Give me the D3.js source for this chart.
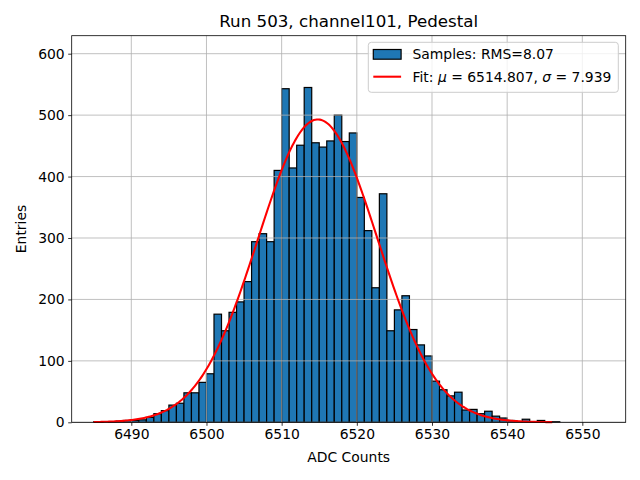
<!DOCTYPE html>
<html>
<head>
<meta charset="utf-8">
<script src="https://cdn.jsdelivr.net/npm/d3@7"></script>
<style>
  body { margin: 0; background: #fff; }
  text { font-family: "DejaVu Sans", sans-serif; fill: #000; }
</style>
</head>
<body>
<div id="container"></div>
<script>
// histogram bins (left edge, width 1 ADC count)
const binStart = [6485, 6486, 6487, 6488, 6489, 6490, 6491, 6492, 6493, 6494, 6495, 6496, 6497, 6498, 6499,
                  6500, 6501, 6502, 6503, 6504, 6505, 6506, 6507, 6508, 6509, 6510, 6511, 6512, 6513, 6514,
                  6515, 6516, 6517, 6518, 6519, 6520, 6521, 6522, 6523, 6524, 6525, 6526, 6527, 6528, 6529,
                  6530, 6531, 6532, 6533, 6534, 6535, 6536, 6537, 6538, 6539, 6540, 6541, 6542, 6543, 6544,
                  6545, 6546];
const counts = [1, 0, 1, 2, 3, 3, 4, 8, 14, 19, 28, 31, 48, 48, 65,
                79, 176, 149, 179, 196, 229, 294, 307, 294, 410, 543, 414, 451, 545, 455,
                448, 458, 500, 457, 471, 366, 312, 219, 372, 149, 183, 206, 151, 126, 108,
                67, 53, 43, 49, 20, 21, 14, 18, 10, 7, 3, 1, 5, 1, 3,
                1, 1];
const xTicks = [6490, 6500, 6510, 6520, 6530, 6540, 6550];
const yTicks = [0, 100, 200, 300, 400, 500, 600];

// gaussian fit parameters (from legend), amplitude
const fitMu = 6514.807;
const fitSigma = 7.939;
const fitAmp = 493;
const fitRange = [6485, 6546];

const width = 640;
const height = 480;
const box = { left: 71.7, right: 625.7, top: 35.7, bot: 422.3 };

const svg = d3.select("#container")
              .append("svg")
              .attr("width", width)
              .attr("height", height);
svg.append("rect").attr("width", width).attr("height", height).attr("fill", "#fff");

const xScale = d3.scaleLinear().domain([6482.07, 6555.77]).range([box.left, box.right]);
const yScale = d3.scaleLinear().domain([0, 629.3]).range([box.bot, box.top]);

// bars
const bins = binStart.map((b, i) => ({ x0: b, x1: b + 1, n: counts[i] }));
svg.append("g")
   .selectAll("rect")
   .data(bins)
   .enter()
   .append("rect")
   .attr("x", (d) => xScale(d.x0))
   .attr("width", (d) => xScale(d.x1) - xScale(d.x0))
   .attr("y", (d) => yScale(d.n))
   .attr("height", (d) => yScale(0) - yScale(d.n))
   .attr("fill", "#1f77b4")
   .attr("stroke", "#000")
   .attr("stroke-width", 1.2);

// grid (drawn above the bars, like matplotlib)
const grid = svg.append("g").attr("stroke", "#b0b0b0").attr("stroke-width", 0.8);
grid.selectAll(".gx")
    .data(xTicks)
    .enter()
    .append("line")
    .attr("x1", (d) => xScale(d)).attr("x2", (d) => xScale(d))
    .attr("y1", box.top).attr("y2", box.bot);
grid.selectAll(".gy")
    .data(yTicks)
    .enter()
    .append("line")
    .attr("x1", box.left).attr("x2", box.right)
    .attr("y1", (d) => yScale(d)).attr("y2", (d) => yScale(d));

// fit curve
const fitX = d3.range(0, 301).map((i) => fitRange[0] + i * (fitRange[1] - fitRange[0]) / 300);
const gauss = (x) => fitAmp * Math.exp(-((x - fitMu) ** 2) / (2 * fitSigma * fitSigma));
const line = d3.line().x((d) => xScale(d)).y((d) => yScale(gauss(d)));
svg.append("path")
   .datum(fitX)
   .attr("d", line)
   .attr("fill", "none")
   .attr("stroke", "red")
   .attr("stroke-width", 2.08);

// axes
const xAxis = d3.axisBottom(xScale).tickValues(xTicks).tickFormat(d3.format("d")).tickSize(3.5).tickPadding(3.5);
const yAxis = d3.axisLeft(yScale).tickValues(yTicks).tickFormat(d3.format("d")).tickSize(3.5).tickPadding(3.5);
const gx = svg.append("g").attr("transform", "translate(0, " + box.bot + ")").call(xAxis);
const gy = svg.append("g").attr("transform", "translate(" + box.left + ", 0)").call(yAxis);
[gx, gy].forEach((g) => {
  g.select(".domain").remove();
  g.selectAll("line").attr("stroke", "#000").attr("stroke-width", 0.8);
  g.selectAll("text").attr("font-size", "13.9px").attr("font-family", "DejaVu Sans").attr("fill", "#000");
});

svg.append("rect")
   .attr("x", box.left).attr("y", box.top)
   .attr("width", box.right - box.left).attr("height", box.bot - box.top)
   .attr("fill", "none").attr("stroke", "#000").attr("stroke-width", 0.8);

// labels
svg.append("text")
   .text("Run 503, channel101, Pedestal")
   .attr("x", (box.left + box.right) / 2).attr("y", 27.4)
   .attr("text-anchor", "middle").attr("font-size", "16.7px");
svg.append("text")
   .text("ADC Counts")
   .attr("x", (box.left + box.right) / 2).attr("y", 462)
   .attr("text-anchor", "middle").attr("font-size", "13.9px");
svg.append("text")
   .text("Entries")
   .attr("transform", "translate(26, " + (box.top + box.bot) / 2 + ")rotate(-90)")
   .attr("text-anchor", "middle").attr("font-size", "13.9px");

// legend
const legend = svg.append("g").attr("id", "legend");
legend.append("rect")
      .attr("x", 368.3).attr("y", 42.3).attr("width", 250).attr("height", 50)
      .attr("rx", 3).attr("fill", "#fff").attr("fill-opacity", 0.8)
      .attr("stroke", "#cccccc").attr("stroke-width", 1);
legend.append("rect")
      .attr("x", 373.3).attr("y", 49.5).attr("width", 27.8).attr("height", 9.7)
      .attr("fill", "#1f77b4").attr("stroke", "#000").attr("stroke-width", 1.2);
legend.append("text")
      .text("Samples: RMS=8.07")
      .attr("x", 412.5).attr("y", 59.3).attr("font-size", "13.9px");
legend.append("line")
      .attr("x1", 373.3).attr("x2", 401.1).attr("y1", 76.7).attr("y2", 76.7)
      .attr("stroke", "red").attr("stroke-width", 2.08);
const fitText = legend.append("text").attr("x", 412.5).attr("y", 81.7).attr("font-size", "13.9px");
fitText.append("tspan").text("Fit: ");
fitText.append("tspan").text("μ").attr("font-style", "italic");
fitText.append("tspan").text(" = " + fitMu.toFixed(3) + ", ");
fitText.append("tspan").text("σ").attr("font-style", "italic");
fitText.append("tspan").text(" = " + fitSigma.toFixed(3));
</script>
</body>
</html>
